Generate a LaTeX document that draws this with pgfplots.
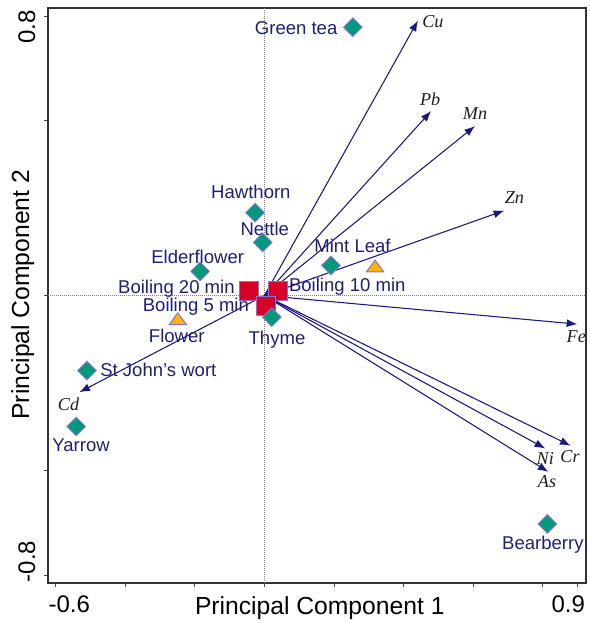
\documentclass[border=0pt]{standalone}
\usepackage{pgfplots}
\pgfplotsset{compat=1.18}
\usepackage{fontspec}
\setmainfont{Liberation Sans}
\newfontfamily\elfont{Liberation Serif}
\usetikzlibrary{arrows.meta}
\definecolor{teal1}{RGB}{0,153,122}
\definecolor{lav}{RGB}{135,115,205}
\definecolor{red1}{RGB}{215,0,40}
\definecolor{orange1}{RGB}{255,180,0}
\definecolor{navy1}{RGB}{25,25,125}
\definecolor{lab}{RGB}{30,30,120}
\definecolor{ell}{RGB}{30,30,30}
\begin{document}
\begin{tikzpicture}
\begin{axis}[
  at={(0,0)}, anchor=south west,
  scale only axis, width=403.5pt, height=431.25pt,
  xmin=-0.622, xmax=0.924, ymin=-0.823, ymax=0.823,
  xtick={-0.6,-0.4,-0.2,0,0.2,0.4,0.6,0.8,0.9},
  ytick={-0.8,-0.5,0,0.5,0.8},
  xticklabels={}, yticklabels={},
  xtick pos=bottom, ytick pos=left,
  tick align=outside, major tick length=3pt,
  tick style={gray!60!black, line width=0.6pt},
  axis line style={gray!40!black, line width=0.8pt},
  clip=false,
  every node/.append style={inner sep=0pt, outer sep=0pt},
]
% zero lines
\addplot[gray, densely dotted, line width=0.5pt] coordinates {(-0.622,0) (0.924,0)};
\addplot[gray, densely dotted, line width=0.5pt] coordinates {(0,-0.823) (0,0.823)};
% boiling squares
\addplot[only marks, mark=square*, mark size=7.1pt, mark options={fill=red1, draw=lav, line width=0.7pt}]
  coordinates {(-0.045,0.014) (0.040,0.013) (0.004,-0.029)};
% herbs (diamonds)
\addplot[only marks, mark=square*, mark size=4.9pt, mark options={rotate=45, fill=teal1, draw=lav, line width=0.7pt}]
  coordinates {
   (0.254,0.768) % Green tea
   (-0.027,0.237) % Hawthorn
   (-0.005,0.152) % Nettle
   (-0.185,0.069) % Elderflower
   (0.191,0.086) % Mint Leaf
   (0.021,-0.062) % Thyme
   (-0.510,-0.215) % St John's wort
   (-0.541,-0.375) % Yarrow
   (0.813,-0.654) % Bearberry
  };
% parts (triangles)
\addplot[only marks, mark=triangle*, mark size=7.5pt, mark options={yscale=0.78, fill=orange1, draw=lav, line width=0.7pt}]
  coordinates {(0.318,0.079) (-0.249,-0.072)};
% loadings
\pgfplotsset{ld/.style={navy1, line width=0.8pt, -{Latex[length=8pt,width=6pt]}}}
\addplot[ld] coordinates {(0,0) (0.441,0.787)};
\addplot[ld] coordinates {(0,0) (0.479,0.528)};
\addplot[ld] coordinates {(0,0) (0.605,0.485)};
\addplot[ld] coordinates {(0,0) (0.689,0.243)};
\addplot[ld] coordinates {(0,0) (0.899,-0.082)};
\addplot[ld] coordinates {(0,0) (0.880,-0.430)};
\addplot[ld] coordinates {(0,0) (0.807,-0.438)};
\addplot[ld] coordinates {(0,0) (0.816,-0.505)};
\addplot[ld] coordinates {(0,0) (-0.532,-0.277)};
% sample labels
\begin{scope}[every node/.style={anchor=base, text=lab, font=\fontsize{13.9}{16}\selectfont, inner sep=0pt}]
\node at (axis cs:0.091,0.746) {Green tea};
\node at (axis cs:-0.039,0.279) {Hawthorn};
\node at (axis cs:0.001,0.172) {Nettle};
\node at (axis cs:-0.192,0.093) {Elderflower};
\node at (axis cs:-0.253,0.007) {Boiling 20 min};
\node at (axis cs:0.238,0.011) {Boiling 10 min};
\node at (axis cs:-0.197,-0.046) {Boiling 5 min};
\node at (axis cs:0.253,0.124) {Mint Leaf};
\node at (axis cs:-0.252,-0.134) {Flower};
\node at (axis cs:0.036,-0.141) {Thyme};
\node at (axis cs:-0.305,-0.233) {St John's wort};
\node at (axis cs:-0.527,-0.446) {Yarrow};
\node at (axis cs:0.800,-0.727) {Bearberry};
\end{scope}
% element labels
\begin{scope}[every node/.style={anchor=base, text=ell, font=\elfont\itshape\fontsize{13.6}{16}\selectfont, inner sep=0pt}]
\node at (axis cs:0.484,0.768) {Cu};
\node at (axis cs:0.476,0.545) {Pb};
\node at (axis cs:0.605,0.503) {Mn};
\node at (axis cs:0.718,0.262) {Zn};
\node at (axis cs:0.896,-0.134) {Fe};
\node at (axis cs:0.878,-0.479) {Cr};
\node at (axis cs:0.807,-0.484) {Ni};
\node at (axis cs:0.812,-0.551) {As};
\node at (axis cs:-0.563,-0.329) {Cd};
\end{scope}
% tick labels and axis labels
\begin{scope}[every node/.style={anchor=base, text=black, font=\fontsize{18}{21}\selectfont, inner sep=0pt}]
\node at (axis cs:-0.561,-0.908) {-0.6};
\node at (axis cs:0.873,-0.908) {0.9};
\node[rotate=90] at (axis cs:-0.659,0.769) {0.8};
\node[rotate=90] at (axis cs:-0.659,-0.761) {-0.8};
\end{scope}
\node[anchor=base, font=\fontsize{18.5}{22}\selectfont] at (axis cs:0.159,-0.913) {Principal Component 1};
\node[anchor=base, rotate=90, font=\fontsize{18.5}{22}\selectfont] at (axis cs:-0.676,0.002) {Principal Component 2};
\end{axis}
\pgfresetboundingbox
\useasboundingbox (-36pt,-30pt) rectangle (405.75pt,437.25pt);
\end{tikzpicture}
\end{document}
